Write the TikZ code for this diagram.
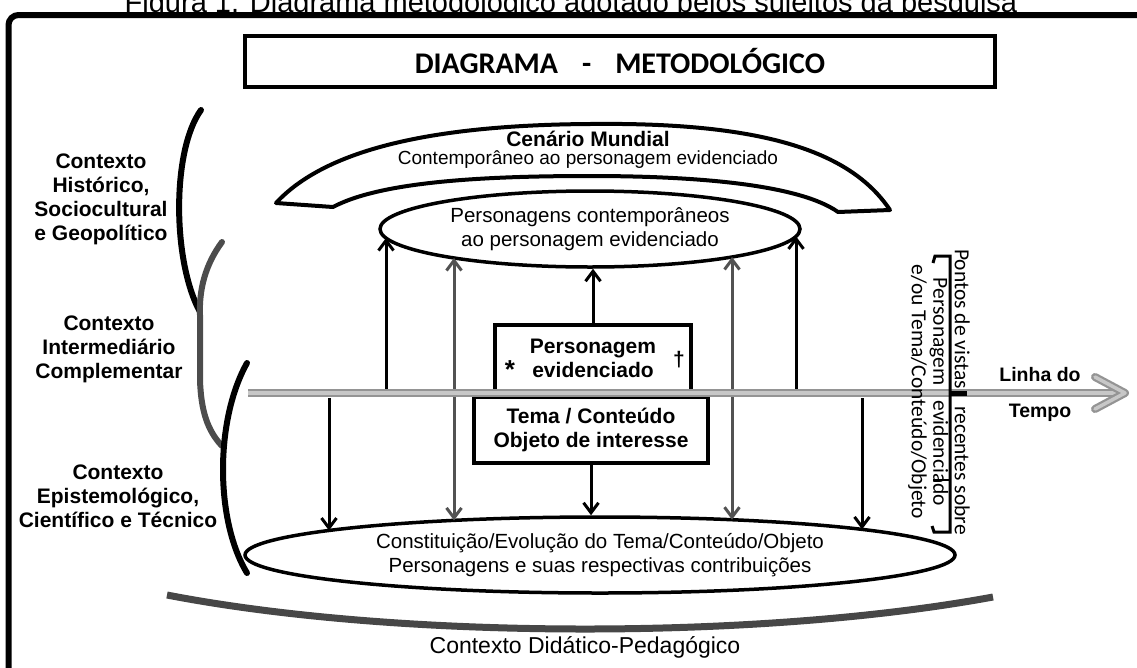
\documentclass[tikz,border=0pt]{standalone}
\usepackage{fontspec}
\setmainfont{Liberation Sans}
\newfontfamily\calib{Carlito}
\usetikzlibrary{arrows.meta,shapes.geometric}
\begin{document}
\begin{tikzpicture}[x=1pt,y=-1pt,
  lbl/.style={font=\fontsize{21}{24}\selectfont\bfseries, align=center, inner sep=0pt},
  reg/.style={font=\fontsize{20.5}{23.5}\selectfont, align=center, inner sep=0pt},
  barbtip/.style={-{Straight Barb[length=10pt,width=15pt]}},
  dbarbtip/.style={{Straight Barb[length=10pt,width=15pt]}-{Straight Barb[length=10pt,width=15pt]}},
  blackarrow/.style={barbtip, line width=3pt, black},
  grayarrow/.style={dbarbtip, line width=3pt, black!68},
  brk/.style={line width=6pt, line cap=round},
  shape box/.style={draw, line width=3.5pt, inner sep=0pt}
]
\useasboundingbox (0,0) rectangle (1137,667);
\clip (0,0) rectangle (1137,667);

% caption (cut off at the top)
\node[font=\fontsize{29}{29}\selectfont, anchor=base, inner sep=0pt] (cap) at (571,12) {Figura 1. Diagrama metodológico adotado pelos sujeitos da pesquisa};

% frame
\draw[line width=6pt, rounded corners=10pt] (8.5,700) -- (8.5,15) -- (1160,15);

% title box
\node[shape box, line width=4pt, minimum width=750pt, minimum height=51pt,
      font=\calib\bfseries\fontsize{30}{30}\selectfont] (title) at (620,61.5)
      {DIAGRAMA\hspace{24pt}-\hspace{24pt}METODOLÓGICO};

% arch (Cenario Mundial)
\draw[line width=4pt, line join=round] (276,203) .. controls (325,150) and (430,125) .. (590,124)
   .. controls (760,122) and (850,150) .. (890,210) -- (838,212)
   .. controls (800,185) and (700,176) .. (590,176)
   .. controls (480,176) and (380,182) .. (333,207) -- cycle;
\node[font=\bfseries\fontsize{21}{21}\selectfont, inner sep=0pt] (cm) at (588,139) {Cenário Mundial};
\node[font=\fontsize{19}{19}\selectfont, inner sep=0pt] (cm2) at (588,160) {Contemporâneo ao personagem evidenciado};

% ellipses
\node[ellipse, draw, line width=3.5pt, minimum width=420pt, minimum height=76pt, reg] (pc) at (590,229)
  {Personagens contemporâneos\\ao personagem evidenciado};
\node[ellipse, draw, line width=3.5pt, minimum width=710pt, minimum height=76pt, reg] (ev) at (600,555)
  {Constituição/Evolução do Tema/Conteúdo/Objeto\\Personagens e suas respectivas contribuições};

% central boxes
\node[shape box, minimum width=196pt, minimum height=67pt, lbl] (pe) at (593,358.5) {Personagem\\evidenciado};
\node[font=\bfseries\fontsize{26}{26}\selectfont, anchor=base, inner sep=0pt] (star) at (510,378) {*};
\node[font=\bfseries\fontsize{21}{21}\selectfont, anchor=base, inner sep=0pt] (dag) at (679,366) {†};
\node[shape box, minimum width=234pt, minimum height=66pt, lbl] (tema) at (591,430) {Tema / Conteúdo\\Objeto de interesse};

% arrow end points
\coordinate (tA) at (386,389);  \coordinate (eA) at (386,238);
\coordinate (tB) at (796,389);  \coordinate (eB) at (796,236.4);
\coordinate (gA1) at (454,258); \coordinate (gA2) at (454,520.4);
\coordinate (gB1) at (732,257); \coordinate (gB2) at (732,519.7);
\coordinate (dA) at (329,398);  \coordinate (fA) at (329,530.5);
\coordinate (dB) at (862,398);  \coordinate (fB) at (862,529.4);

\draw[blackarrow] (tA) -- (eA);
\draw[blackarrow] (tB) -- (eB);
\draw[blackarrow] (dA) -- (fA);
\draw[blackarrow] (dB) -- (fB);
\draw[grayarrow] (gA2) -- (gA1);
\draw[grayarrow] (gB2) -- (gB1);
\draw[blackarrow] (pe.north) -- (pe.north |- pc.south);
\draw[blackarrow] (tema.south) -- (tema.south |- ev.north);

% time line
\coordinate (t0) at (248,393);
\coordinate (t1) at (1120,393);
\coordinate (hTop) at (1095,377);
\coordinate (hTip) at (1125,393);
\coordinate (hBot) at (1095,409);
\draw[line width=8pt, black!42] (t0) -- (t1);
\draw[line width=3.5pt, black!22] (t0) -- (t1);
\draw[line width=8pt, black!42, line cap=round, line join=round] (hTop) -- (hTip) -- (hBot);
\draw[line width=3.5pt, black!22, line cap=round, line join=round] (hTop) -- (hTip) -- (hBot);
\node[font=\bfseries\fontsize{19.5}{19.5}\selectfont, inner sep=0pt] (ld) at (1040,375) {Linha do};
\node[font=\bfseries\fontsize{19.5}{19.5}\selectfont, inner sep=0pt] (tp) at (1040,413) {Tempo};

% right brace and vertical text
\draw[line width=3pt] (933,263) -- (935,256) -- (950,256) -- (950,532) -- (934,532) -- (932,526);
\draw[line width=5pt] (950,393) -- (967,393);
\draw[line width=2pt] (933,480) -- (950,480);
\node[rotate=-90, font=\calib\fontsize{21.5}{21.5}\selectfont, align=center, inner sep=0pt] (pv) at (939,392)
  {Pontos de vistas\hspace{17pt}recentes sobre\\Personagem\hspace{15pt}evidenciado\\e/ou Tema/Conteúdo/Objeto};

% left brackets
\draw[brk, black] (201,110) .. controls (172,150) and (172,260) .. (200,312);
\draw[brk, black!70] (222,242) .. controls (205,265) and (199,290) .. (200,315) -- (200,380) .. controls (201,410) and (207,430) .. (222,446);
\draw[brk, black] (247,363) .. controls (215,420) and (215,520) .. (247,573);

% left labels
\node[lbl] (hist) at (101,199) {Contexto\\Histórico,\\Sociocultural\\e Geopolítico};
\node[lbl] (inter) at (109,349) {Contexto\\Intermediário\\Complementar};
\node[lbl] (epis) at (118,496) {Contexto\\Epistemológico,\\Científico e Técnico};

% bottom arc
\draw[line width=7pt, black!72] (167,595) .. controls (400,640) and (760,640) .. (993,597);
\node[font=\fontsize{23}{23}\selectfont, inner sep=0pt] (dp) at (585,647) {Contexto Didático-Pedagógico};
\end{tikzpicture}
\end{document}
